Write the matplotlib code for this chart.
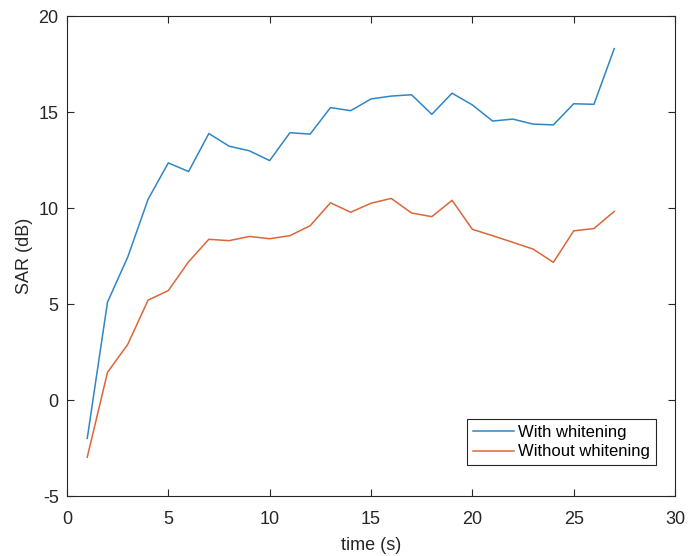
import matplotlib
matplotlib.use("Agg")
import matplotlib.pyplot as plt

# SAR over time
time_s = list(range(1, 28))
with_whitening = [-2.0, 5.1, 7.45, 10.45, 12.35, 11.9, 13.88, 13.22, 12.98, 12.47,
                  13.92, 13.85, 15.23, 15.07, 15.68, 15.83, 15.9, 14.88, 15.98, 15.37,
                  14.53, 14.63, 14.37, 14.33, 15.43, 15.4, 18.3]
without_whitening = [-2.98, 1.44, 2.9, 5.2, 5.7, 7.2, 8.37, 8.3, 8.52, 8.4,
                     8.56, 9.08, 10.27, 9.78, 10.25, 10.5, 9.74, 9.55, 10.4, 8.89,
                     8.56, 8.21, 7.86, 7.17, 8.81, 8.93, 9.82]

plt.rcParams["font.family"] = ["Liberation Sans", "DejaVu Sans"]
plt.rcParams["axes.unicode_minus"] = False
ink = "#262626"

fig = plt.figure(figsize=(6.89, 5.56), dpi=100)
ax = fig.add_axes([0.0972, 0.1079, 0.8825, 0.8633])

ax.plot(time_s, with_whitening, color="#2f86c4", lw=1.1, label="With whitening")
ax.plot(time_s, without_whitening, color="#dc6638", lw=1.1, label="Without whitening")

ax.set_xlim(0, 30)
ax.set_ylim(-5, 20)
ax.set_xticks(range(0, 31, 5))
ax.set_yticks(range(-5, 21, 5))
ax.tick_params(direction="in", top=True, right=True, length=5, width=0.8,
               colors=ink, labelsize=13)
ax.tick_params(axis="x", pad=11)
ax.tick_params(axis="y", pad=6)
for sp in ax.spines.values():
    sp.set_color(ink)
    sp.set_linewidth(0.8)

ax.set_xlabel("time (s)", fontsize=13, color=ink, labelpad=6)
ax.set_ylabel("SAR (dB)", fontsize=13, color=ink, labelpad=4)

leg = ax.legend(loc="lower right", bbox_to_anchor=(0.969, 0.064), fontsize=12,
                fancybox=False, framealpha=1, edgecolor=ink, handlelength=2.5,
                handletextpad=0.25, borderpad=0.35, labelspacing=0.25, borderaxespad=0)
leg.get_frame().set_linewidth(0.8)

fig.savefig("out.png", dpi=100)
